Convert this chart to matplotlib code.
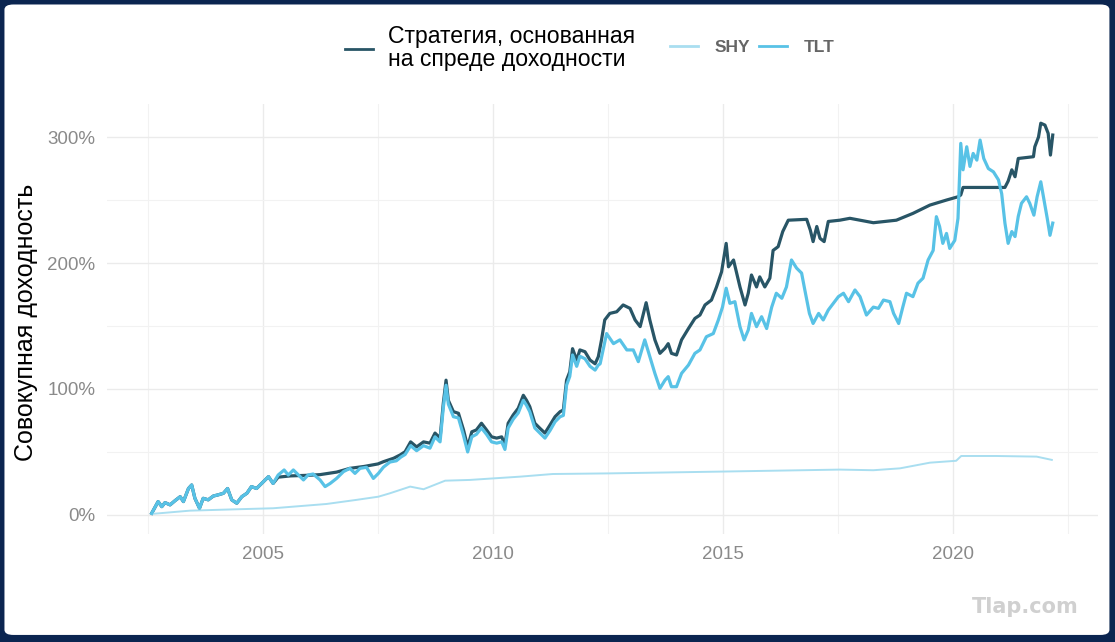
import matplotlib
matplotlib.use('Agg')
import matplotlib.pyplot as plt
from matplotlib.patches import FancyBboxPatch
from matplotlib.ticker import FixedLocator, FuncFormatter

plt.rcParams['font.family'] = ['Liberation Sans', 'DejaVu Sans']

# TLT cumulative return, %
tlt_years = [2002.58, 2002.65, 2002.72, 2002.80, 2002.87, 2002.98, 2003.09, 2003.20, 2003.27, 2003.38,
             2003.45, 2003.52, 2003.62, 2003.70, 2003.81, 2003.92, 2004.03, 2004.14, 2004.23, 2004.32,
             2004.43, 2004.54, 2004.65, 2004.75, 2004.86, 2004.97, 2005.12, 2005.22, 2005.33, 2005.46,
             2005.55, 2005.66, 2005.77, 2005.88, 2005.98, 2006.09, 2006.24, 2006.35, 2006.46, 2006.60,
             2006.75, 2006.89, 2007.00, 2007.11, 2007.25, 2007.40, 2007.51, 2007.62, 2007.76, 2007.90,
             2008.00, 2008.09, 2008.21, 2008.34, 2008.49, 2008.63, 2008.74, 2008.85, 2008.92, 2008.98,
             2009.03, 2009.14, 2009.25, 2009.36, 2009.45, 2009.54, 2009.64, 2009.75, 2009.86, 2009.97,
             2010.08, 2010.19, 2010.26, 2010.33, 2010.44, 2010.55, 2010.66, 2010.73, 2010.80, 2010.91,
             2011.02, 2011.13, 2011.24, 2011.35, 2011.46, 2011.53, 2011.60, 2011.67, 2011.73, 2011.82,
             2011.89, 2012.00, 2012.11, 2012.22, 2012.29, 2012.33, 2012.47, 2012.62, 2012.76, 2012.91,
             2013.05, 2013.16, 2013.30, 2013.41, 2013.52, 2013.63, 2013.74, 2013.81, 2013.88, 2013.99,
             2014.10, 2014.25, 2014.39, 2014.50, 2014.64, 2014.79, 2014.90, 2014.99, 2015.07, 2015.15,
             2015.26, 2015.37, 2015.46, 2015.55, 2015.62, 2015.73, 2015.84, 2015.95, 2016.06, 2016.16,
             2016.28, 2016.38, 2016.49, 2016.60, 2016.71, 2016.78, 2016.88, 2016.96, 2017.08, 2017.18,
             2017.29, 2017.40, 2017.51, 2017.62, 2017.73, 2017.87, 2017.98, 2018.12, 2018.27, 2018.38,
             2018.49, 2018.63, 2018.71, 2018.82, 2018.91, 2018.99, 2019.13, 2019.24, 2019.35, 2019.46,
             2019.57, 2019.64, 2019.71, 2019.78, 2019.86, 2019.93, 2020.04, 2020.11, 2020.17, 2020.22,
             2020.30, 2020.37, 2020.44, 2020.52, 2020.59, 2020.67, 2020.77, 2020.88, 2020.99, 2021.06,
             2021.13, 2021.20, 2021.28, 2021.35, 2021.42, 2021.49, 2021.60, 2021.67, 2021.76, 2021.83,
             2021.91, 2021.98, 2022.05, 2022.11, 2022.17]
tlt_vals = [1.3, 6, 10.6, 6.6, 9.8, 8, 11.4, 14.5, 10.6, 21,
            23.8, 13.2, 5.3, 13.2, 12, 15, 16, 17.2, 21, 12,
            9.3, 14.5, 17.2, 22.5, 21, 25, 30.4, 25, 31.7, 35.7,
            31.7, 35.7, 31.7, 27.8, 31.7, 32.5, 27.8, 22.5, 25, 29,
            34.4, 37, 33, 37, 37.8, 29, 33, 38, 42, 43,
            46, 48, 55, 51, 55, 53, 62, 58, 85, 103,
            88, 78, 77, 63, 50, 62, 64, 69, 64, 58,
            57, 58, 52, 69, 76, 81, 91, 87, 82, 69,
            65, 61, 67, 74, 78, 79, 103, 110, 127, 118,
            126, 124, 118, 115, 119, 120, 144, 136, 139, 131,
            131, 121.7, 139, 125.6, 112.4, 100.5, 107, 109.8, 101.8, 101.8,
            112.4, 119, 128.3, 131, 141.5, 144, 154.8, 165, 180, 168,
            169.3, 149.5, 139, 146.8, 160, 149.5, 157.4, 148, 165, 176,
            172, 181, 202.4, 196, 192, 178.6, 160, 152, 160, 154.8,
            162.7, 168, 173.3, 176, 169.3, 178.6, 173.3, 158.7, 165, 164,
            170.6, 169.3, 160, 152, 165, 176, 173.3, 184, 188, 202.4,
            210, 236.8, 229, 215.6, 223.5, 211.6, 218, 235.5, 295, 274,
            292.3, 276.7, 287, 281.7, 297.6, 283, 275, 272.4, 266, 255,
            231.7, 215.6, 225, 221, 237, 247.4, 252.6, 247.4, 238, 252.6,
            264.5, 250, 235.5, 222, 231.7]

# yield-spread strategy cumulative return, %
strat_years = [2002.58, 2002.65, 2002.72, 2002.80, 2002.87, 2002.98, 2003.09, 2003.20, 2003.27, 2003.38,
               2003.45, 2003.52, 2003.62, 2003.70, 2003.81, 2003.92, 2004.03, 2004.14, 2004.23, 2004.32,
               2004.43, 2004.54, 2004.65, 2004.75, 2004.86, 2004.97, 2005.12, 2005.22, 2005.33, 2005.60,
               2006.00, 2006.24, 2006.60, 2006.89, 2007.20, 2007.50, 2007.62, 2007.84, 2007.98, 2008.09,
               2008.21, 2008.34, 2008.49, 2008.63, 2008.74, 2008.85, 2008.92, 2008.98, 2009.03, 2009.14,
               2009.25, 2009.36, 2009.45, 2009.54, 2009.64, 2009.75, 2009.86, 2009.97, 2010.08, 2010.19,
               2010.26, 2010.33, 2010.44, 2010.55, 2010.66, 2010.73, 2010.80, 2010.91, 2011.02, 2011.13,
               2011.24, 2011.35, 2011.46, 2011.53, 2011.60, 2011.67, 2011.73, 2011.82, 2011.89, 2012.00,
               2012.11, 2012.22, 2012.29, 2012.36, 2012.43, 2012.54, 2012.69, 2012.83, 2012.98, 2013.09,
               2013.20, 2013.33, 2013.41, 2013.52, 2013.63, 2013.74, 2013.81, 2013.88, 2013.99, 2014.10,
               2014.25, 2014.39, 2014.50, 2014.61, 2014.75, 2014.86, 2014.97, 2015.07, 2015.12, 2015.23,
               2015.30, 2015.37, 2015.48, 2015.55, 2015.62, 2015.73, 2015.80, 2015.91, 2016.02, 2016.09,
               2016.20, 2016.30, 2016.42, 2016.82, 2016.90, 2016.96, 2017.04, 2017.11, 2017.20, 2017.29,
               2017.54, 2017.76, 2018.27, 2018.77, 2019.13, 2019.50, 2019.86, 2020.11, 2020.17, 2020.22,
               2021.13, 2021.20, 2021.28, 2021.35, 2021.42, 2021.75, 2021.78, 2021.86, 2021.91, 2022.00,
               2022.07, 2022.12, 2022.17]
strat_vals = [1.3, 6, 10.6, 6.6, 9.8, 8, 11.4, 14.5, 10.6, 21,
              23.8, 13.2, 5.3, 13.2, 12, 15, 16, 17.2, 21, 12,
              9.3, 14.5, 17.2, 22.5, 21, 25, 30.4, 25, 30, 31,
              31.5, 32, 34, 37, 38.5, 40.5, 42.3, 45, 47.6, 50.2,
              58, 54, 58, 57, 65, 61, 88.6, 107, 91, 82,
              80.7, 67.5, 54, 66, 67.5, 72.8, 67.5, 62, 61, 62,
              55.6, 72.8, 79.4, 84.7, 95, 91, 86, 72.8, 68.8, 65,
              71.4, 78, 82, 83.3, 107, 113.7, 132, 123, 131, 129.6,
              123, 120, 125.6, 139, 154.8, 160, 161.3, 166.7, 164, 154.8,
              149.5, 168.5, 154.8, 139, 128.3, 132.3, 136, 128.3, 127, 139,
              148, 156, 158.7, 166.7, 170.6, 181, 193, 215.6, 197, 202.4,
              191.8, 181, 166.7, 176, 190.5, 181, 189, 181, 188, 210,
              213, 225, 234, 234.7, 226, 217, 229, 219.6, 217, 233,
              234, 235.5, 232, 234, 239.4, 246, 250, 252.6, 254, 260,
              260, 265, 274, 268.5, 283, 284.4, 292.3, 300, 311, 309.5,
              303, 285.7, 301.6]

# SHY cumulative return, %
shy_years = [2002.58, 2003.41, 2004.43, 2005.22, 2006.38, 2007.04, 2007.51, 2007.76, 2008.20, 2008.49,
             2008.96, 2009.50, 2010.00, 2010.59, 2011.30, 2012.54, 2014.93, 2017.54, 2018.27, 2018.85,
             2019.50, 2020.07, 2020.18, 2020.95, 2021.82, 2022.15]
shy_vals = [0.8, 3.4, 4.5, 5.3, 8.7, 12, 14.5, 17.2, 22.5, 20.4,
            27.2, 27.8, 29, 30.4, 32.5, 33, 34.4, 36, 35.5, 37,
            41.5, 43, 46.8, 46.8, 46.3, 43.7]

year_ticks = [2005, 2010, 2015, 2020]
ret_ticks = [0, 100, 200, 300]

c_strat = '#285566'
c_shy = '#a9def0'
c_tlt = '#58c2e6'

fig = plt.figure(figsize=(11.15, 6.42), dpi=100)
fig.patch.set_facecolor('#0b2550')
panel = FancyBboxPatch((0.004, 0.011), 0.991, 0.982, boxstyle='round,pad=0,rounding_size=0.008',
                       transform=fig.transFigure, facecolor='white', edgecolor='none', zorder=-10)
fig.patches.append(panel)

ax = fig.add_axes([0.0956, 0.1675, 0.889, 0.671])
ax.set_zorder(1)
ax.set_facecolor('white')

l1, = ax.plot(strat_years, strat_vals, color=c_strat, lw=2.3, label='Стратегия, основанная\nна спреде доходности')
l2, = ax.plot(shy_years, shy_vals, color=c_shy, lw=1.4, label='SHY')
l3, = ax.plot(tlt_years, tlt_vals, color=c_tlt, lw=2.3, label='TLT')

ax.set_xlim(2001.6, 2023.15)
ax.set_ylim(-15.5, 326.5)
ax.set_xticks(year_ticks)
ax.set_yticks(ret_ticks)
ax.xaxis.set_minor_locator(FixedLocator([2002.5, 2007.5, 2012.5, 2017.5, 2022.5]))
ax.yaxis.set_minor_locator(FixedLocator([50, 150, 250]))
ax.yaxis.set_major_formatter(FuncFormatter(lambda v, p: f'{int(v)}%'))
ax.grid(True, which='major', color='#ebebeb', lw=1.0)
ax.grid(True, which='minor', color='#f2f2f2', lw=0.8)
ax.set_axisbelow(True)
for s in ax.spines.values():
    s.set_visible(False)
ax.tick_params(which='both', length=0)
ax.tick_params(axis='y', pad=8, labelsize=13.5, labelcolor='#8a8a8a')
ax.tick_params(axis='x', pad=8, labelsize=13.5, labelcolor='#8a8a8a')

fig.text(26 / 1115, 1 - 322 / 642, 'Совокупная доходность', rotation=90, ha='center', va='center',
         fontsize=18, color='black')

# legend: strategy on its own, SHY and TLT packed closer together
leg1 = fig.legend(handles=[l1], loc='center left', bbox_to_anchor=(345 / 1115, 1 - 48 / 642),
                  frameon=False, fontsize=16.6, borderpad=0, borderaxespad=0,
                  handlelength=1.22, handletextpad=0.65)
for t in leg1.get_texts():
    t.set_linespacing(0.95)
leg2 = fig.legend(handles=[l2, l3], loc='center left', bbox_to_anchor=(670 / 1115, 1 - 47 / 642),
                  ncol=2, frameon=False, borderpad=0, borderaxespad=0,
                  prop={'size': 12.5, 'weight': 'bold'},
                  handlelength=1.6, handletextpad=0.95, columnspacing=0.55)
for lg in (leg1, leg2):
    for h in lg.legend_handles:
        h.set_linewidth(2.0)
for t in leg2.get_texts():
    t.set_color('#666666')

fig.text(1025 / 1115, 1 - 607 / 642, 'Tlap.com', ha='center', va='center', fontsize=15,
         fontweight='bold', color='#d0d0d0', family='DejaVu Sans')

fig.savefig('out.png', dpi=100, facecolor=fig.get_facecolor())
